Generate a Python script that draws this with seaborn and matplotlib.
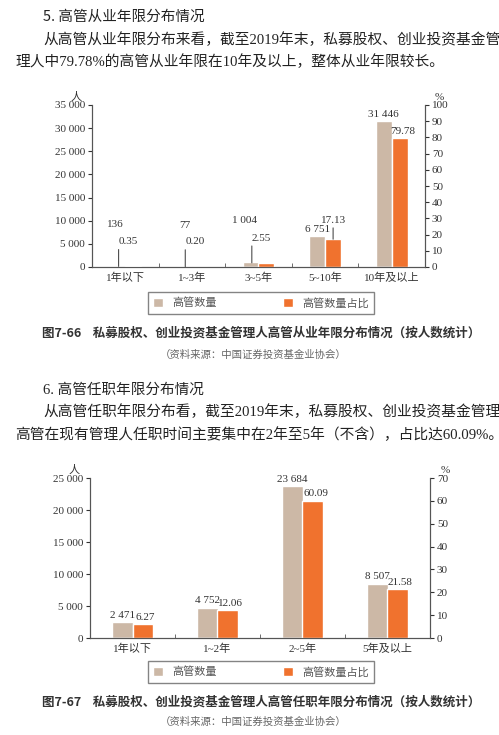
import numpy as np
import pandas as pd
import seaborn as sns
import matplotlib.pyplot as plt
from matplotlib.patches import Patch
from matplotlib.ticker import FuncFormatter, FixedLocator

sns.set_style("white")
SERIF = ['Liberation Serif', 'Noto Sans CJK SC', 'DejaVu Sans']
plt.rcParams['font.family'] = SERIF

# chart 1 data: 从业年限
cats1 = ['1年以下', '1~3年', '3~5年', '5~10年', '10年及以上']
count1 = [136, 77, 1004, 6751, 31446]
pct1 = [0.35, 0.20, 2.55, 17.13, 79.78]

# chart 2 data: 任职年限
cats2 = ['1年以下', '1~2年', '2~5年', '5年及以上']
count2 = [2471, 4752, 23684, 8507]
pct2 = [6.27, 12.06, 60.09, 21.58]

series = ['高管数量', '高管数量占比']
TAN, ORANGE = '#ccb8a6', '#f0722e'
W, H = 499, 735

fig = plt.figure(figsize=(W / 100, H / 100), dpi=100)
fmt = FuncFormatter(lambda v, p: f'{int(v):,}'.replace(',', ' '))


def px(x, y):
    return x / W, 1 - y / H


def draw(rect, cats, counts, pcts, cmax, cstep, pmax, pstep, leaders):
    ax = fig.add_axes(rect)
    ax2 = ax.twinx()
    zeros = [0] * len(cats)
    # each axis gets both hue levels so dodge works; the other series is zero height
    dfc = pd.DataFrame({'cat': cats * 2, 'series': [series[0]] * len(cats) + [series[1]] * len(cats),
                        'v': list(counts) + zeros})
    dfp = pd.DataFrame({'cat': cats * 2, 'series': [series[0]] * len(cats) + [series[1]] * len(cats),
                        'v': zeros + list(pcts)})
    pal = {series[0]: TAN, series[1]: ORANGE}
    sns.barplot(data=dfc, x='cat', y='v', hue='series', hue_order=series,
                palette=pal, width=0.48, ax=ax, legend=False, saturation=1)
    sns.barplot(data=dfp, x='cat', y='v', hue='series', hue_order=series,
                palette=pal, width=0.48, ax=ax2, legend=False, saturation=1)
    n = len(cats)
    for a in (ax, ax2):
        a.set_xlim(-0.5, n - 0.5)
        a.set_xlabel('')
        a.set_ylabel('')
        a.spines['top'].set_visible(False)
        for s in ('left', 'bottom', 'right'):
            a.spines[s].set_color('#555555')
            a.spines[s].set_linewidth(0.8)
    ax.set_ylim(0, cmax)
    ax2.set_ylim(0, pmax)
    ax.set_yticks(np.arange(0, cmax + 1, cstep))
    ax2.set_yticks(np.arange(0, pmax + 1, pstep))
    ax.yaxis.set_major_formatter(fmt)
    ax.tick_params(axis='y', length=3, labelsize=8, colors='#333333', left=True, pad=2)
    ax2.tick_params(axis='y', length=3, labelsize=8, colors='#333333', right=True, pad=2)
    ax.set_xticks(range(n))
    ax.set_xticklabels(cats, fontsize=8, color='#333333')
    ax.tick_params(axis='x', length=0, pad=4)
    ax.xaxis.set_minor_locator(FixedLocator(np.arange(0.5, n - 0.5, 1)))
    ax.tick_params(axis='x', which='minor', length=3, bottom=True, direction='in', color='#555555')
    ax.text(-0.03, 1.02, '人', transform=ax.transAxes, fontsize=8, ha='right', va='bottom', color='#333333')
    ax2.text(1.03, 1.02, '%', transform=ax2.transAxes, fontsize=8, ha='left', va='bottom', color='#333333')
    for i in range(n):
        xc, xp = i - 0.12, i + 0.12
        if i in leaders:
            ax.annotate(f'{counts[i]:,}'.replace(',', ' '), (i, counts[i]), xytext=(-1, 28),
                        textcoords='offset points', ha='right', fontsize=8, color='#333333')
            ax2.annotate(f'{pcts[i]:.2f}', (i - 0.1, pcts[i]), xytext=(0, 16),
                         textcoords='offset points', ha='left', fontsize=8, color='#333333',
                         arrowprops=dict(arrowstyle='-', color='#333333', lw=0.7,
                                         shrinkA=0, shrinkB=0, relpos=(0, 0.8)))
        elif pcts[i] < 30 and counts[i] / cmax < 0.3 and leaders:
            ax.annotate(f'{counts[i]:,}'.replace(',', ' '), (xc, counts[i]), xytext=(0, 3),
                        textcoords='offset points', ha='center', fontsize=8, color='#333333')
            ax2.annotate(f'{pcts[i]:.2f}', (xp, pcts[i]), xytext=(0, 12),
                         textcoords='offset points', ha='center', fontsize=8, color='#333333',
                         arrowprops=dict(arrowstyle='-', color='#333333', lw=0.7,
                                         shrinkA=0, shrinkB=0, relpos=(0.5, 0)))
        else:
            ax.annotate(f'{counts[i]:,}'.replace(',', ' '), (xc, counts[i]), xytext=(0, 3),
                        textcoords='offset points', ha='center', fontsize=8, color='#333333')
            ax2.annotate(f'{pcts[i]:.2f}', (xp, pcts[i]), xytext=(2, 3),
                         textcoords='offset points', ha='center', fontsize=8, color='#333333')
    return ax


def legend(y):
    handles = [Patch(facecolor=TAN, label=series[0]), Patch(facecolor=ORANGE, label=series[1])]
    fig.legend(handles=handles, loc='center', bbox_to_anchor=px(261, y), ncol=2,
               fontsize=8, frameon=True, fancybox=False, edgecolor='#666666',
               columnspacing=6, handlelength=0.9, handleheight=0.9, borderpad=0.5,
               labelcolor='#555555')


def text(x, y, s, **kw):
    fx, fy = px(x, y)
    fig.text(fx, fy, s, va='center', **kw)


PARA = 10.6

# section 5
text(43, 17, '5. 高管从业年限分布情况', fontsize=10.5, family=['Noto Sans CJK SC'], color='#222222')
text(43, 40, '从高管从业年限分布来看，截至2019年末，私募股权、创业投资基金管', fontsize=PARA, color='#222222')
text(15, 62, '理人中79.78%的高管从业年限在10年及以上，整体从业年限较长。', fontsize=PARA, color='#222222')
draw([92 / W, 1 - 267 / H, 333 / W, 162 / H], cats1, count1, pct1, 35000, 5000, 100, 10, leaders=[0, 1, 2])
legend(303)
text(261, 333, '图7-66    私募股权、创业投资基金管理人高管从业年限分布情况（按人数统计）', fontsize=9,
     fontweight='bold', family=['Noto Sans CJK SC'], ha='center', color='#333333')
text(253, 355, '（资料来源：中国证券投资基金业协会）', fontsize=7.5, ha='center', color='#666666')

# section 6
text(43, 390, '6. 高管任职年限分布情况', fontsize=10.5, color='#222222')
text(43, 412, '从高管任职年限分布看，截至2019年末，私募股权、创业投资基金管理人', fontsize=PARA, color='#222222')
text(15, 435, '高管在现有管理人任职时间主要集中在2年至5年（不含），占比达60.09%。', fontsize=PARA, color='#222222')
draw([90 / W, 1 - 638 / H, 340 / W, 160 / H], cats2, count2, pct2, 25000, 5000, 70, 10, leaders=[])
legend(672)
text(261, 702, '图7-67    私募股权、创业投资基金管理人高管任职年限分布情况（按人数统计）', fontsize=9,
     fontweight='bold', family=['Noto Sans CJK SC'], ha='center', color='#333333')
text(253, 722, '（资料来源：中国证券投资基金业协会）', fontsize=7.5, ha='center', color='#666666')

fig.savefig('out.png', dpi=100, facecolor='white')
